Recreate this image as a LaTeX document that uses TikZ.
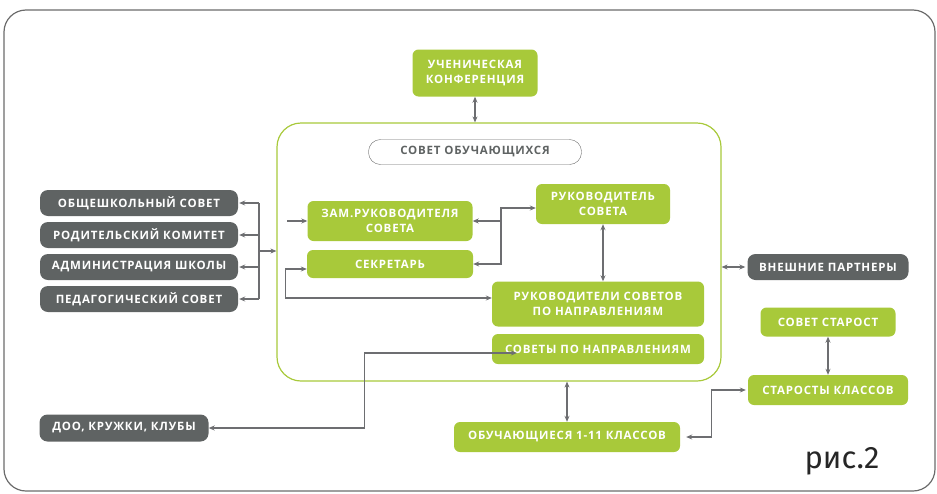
\documentclass[tikz,border=0pt]{standalone}
\usepackage{fontspec}
\setmainfont{Open Sans}
\newfontfamily\boxfont[LetterSpace=7]{Open Sans}
\newfontfamily\capfont{Fira Sans}
\usetikzlibrary{positioning,arrows.meta}
\definecolor{leaf}{HTML}{A8C93A}
\definecolor{slate}{HTML}{5F6363}
\definecolor{wire}{HTML}{6D6E71}
\definecolor{rim}{HTML}{6B6B6B}
\tikzset{
  greenbox/.style={fill=leaf, rounded corners=6pt, text=white, align=center,
    inner sep=0pt, font=\boxfont\bfseries\fontsize{11.5}{15}\selectfont},
  darkbox/.style={fill=slate, rounded corners=8pt, text=white, align=center,
    inner sep=0pt, minimum width=198pt, minimum height=26pt,
    font=\boxfont\bfseries\fontsize{11.5}{15}\selectfont},
  link/.style={draw=wire, line width=1.2pt, -{Stealth[length=6pt,width=5pt]}},
  both/.style={link, {Stealth[length=6pt,width=5pt]}-{Stealth[length=6pt,width=5pt]}}
}
\begin{document}
\begin{tikzpicture}[x=1pt,y=-1pt]
  \useasboundingbox (0,0) rectangle (937,493);
  \draw[rim, line width=1.2pt, rounded corners=22pt] (4,10) rectangle (935,491);

  % council of students
  \node[draw=leaf, line width=1.2pt, rounded corners=24pt, minimum width=444pt,
        minimum height=258pt] (council) at (499,252) {};
  \node[draw=rim, fill=white, rounded corners=12pt, inner sep=0pt, minimum width=213pt,
        minimum height=25pt, text=slate, font=\boxfont\bfseries\fontsize{11.5}{15}\selectfont]
        (title) at (475,152) {СОВЕТ ОБУЧАЮЩИХСЯ};
  \node[greenbox, minimum width=125pt, minimum height=47pt] (conf) at (475,73)
        {УЧЕНИЧЕСКАЯ\\КОНФЕРЕНЦИЯ};
  \node[greenbox, minimum width=165pt, minimum height=40pt] (deputy) at (390,221)
        {ЗАМ.РУКОВОДИТЕЛЯ\\СОВЕТА};
  \node[greenbox, minimum width=166pt, minimum height=28pt] (secretary) at (390,264)
        {СЕКРЕТАРЬ};
  \node[greenbox, minimum width=134pt, minimum height=40pt] (leader) at (603,204)
        {РУКОВОДИТЕЛЬ\\СОВЕТА};
  \node[greenbox, minimum width=212pt, minimum height=45pt] (heads) at (598,304)
        {РУКОВОДИТЕЛИ СОВЕТОВ\\ПО НАПРАВЛЕНИЯМ};
  \node[greenbox, minimum width=212pt, minimum height=30pt] (councils) at (598,349)
        {СОВЕТЫ ПО НАПРАВЛЕНИЯМ};

  % outside
  \node[darkbox] (school) at (139,203) {ОБЩЕШКОЛЬНЫЙ СОВЕТ};
  \node[darkbox] (parents) at (139,235) {РОДИТЕЛЬСКИЙ КОМИТЕТ};
  \node[darkbox] (admin) at (139,267) {АДМИНИСТРАЦИЯ ШКОЛЫ};
  \node[darkbox] (teachers) at (139,299) {ПЕДАГОГИЧЕСКИЙ СОВЕТ};
  \node[darkbox, minimum width=169pt, minimum height=27pt] (clubs) at (124,428)
        {ДОО, КРУЖКИ, КЛУБЫ};
  \node[darkbox, minimum width=161pt] (partners) at (828,267) {ВНЕШНИЕ ПАРТНЕРЫ};
  \node[greenbox, minimum width=226pt, minimum height=30pt] (students) at (567,437)
        {ОБУЧАЮЩИЕСЯ 1-11 КЛАССОВ};
  \node[greenbox, minimum width=160pt, minimum height=30pt] (monitors) at (828,390)
        {СТАРОСТЫ КЛАССОВ};
  \node[greenbox, minimum width=135pt, minimum height=29pt] (board) at (828,322)
        {СОВЕТ СТАРОСТ};
  \node[text=black!85, font=\capfont\fontsize{31}{36}\selectfont] (caption) at (842,461) {рис.2};

  % connectors
  \coordinate (fork) at (259,251);
  \coordinate (entry) at (287,221);
  \coordinate (hub) at (501,221);
  \draw[both] (conf.south) -- (conf.south |- council.north);
  \draw[wire, line width=1.2pt] (fork |- school.east) -- (fork |- teachers.east);
  \foreach \n in {school,parents,admin,teachers}
    \draw[link] (fork |- \n.east) -- ([xshift=1pt]\n.east);
  \draw[link] (fork) -- (fork -| council.west);
  \draw[link] (entry) -- (deputy.west);
  \draw[both] ([yshift=-5pt]secretary.west) -- ++(-21,0) |- ([yshift=6pt]heads.west);
  \draw[link] (hub) -- (deputy.east);
  \draw[link] (hub) |- ([yshift=-4pt]leader.west);
  \draw[link] (hub) |- (secretary.east);
  \draw[both] (leader.south) -- (leader.south |- heads.north);
  \draw[both] (clubs.east) -- ++(156,0) |- ([xshift=25pt,yshift=-4pt]councils.west);
  \draw[both] (students.north) -- (students.north |- council.south);
  \draw[both] ([xshift=6pt]students.east) -- ++(25,0) |- ([xshift=-2pt]monitors.west);
  \draw[both] (board.south) -- (monitors.north);
  \draw[both] (partners.west -| council.east) -- ([xshift=-2pt]partners.west);
\end{tikzpicture}
\end{document}
